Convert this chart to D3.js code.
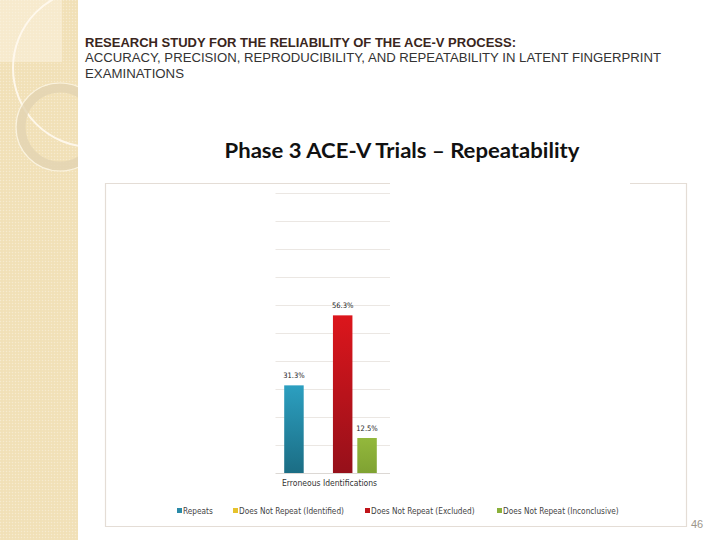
<!DOCTYPE html>
<html>
<head>
<meta charset="utf-8">
<script src="https://cdn.jsdelivr.net/npm/d3@7"></script>
<style>
  html, body { margin: 0; padding: 0; background: #fff; }
  svg { display: block; }
</style>
</head>
<body>
<svg id="chart" width="720" height="540"></svg>
<script>
// ---- data ----
const categories = ["Erroneous Identifications"];
const seriesNames = ["Repeats", "Does Not Repeat (Identified)", "Does Not Repeat (Excluded)", "Does Not Repeat (Inconclusive)"];
const seriesValues = [31.3, 0, 56.3, 12.5];
const valueLabels = ["31.3%", "", "56.3%", "12.5%"];
const yTicks = [0, 10, 20, 30, 40, 50, 60, 70, 80, 90, 100];

const headerLine1 = "RESEARCH STUDY FOR THE RELIABILITY OF THE ACE-V PROCESS:";
const headerLine2 = "ACCURACY, PRECISION, REPRODUCIBILITY, AND REPEATABILITY IN LATENT FINGERPRINT";
const headerLine3 = "EXAMINATIONS";
const chartTitle = "Phase 3 ACE-V Trials \u2013 Repeatability";
const pageNumber = "46";

// ---- styles ----
const colorsTop = ["#2c9fc0", "#f0cc3a", "#dc161c", "#93b83c"];
const colorsBottom = ["#1b6d84", "#d9ae1e", "#96101a", "#7fa232"];
const legendColors = ["#2a8aa8", "#e6c22c", "#c0141a", "#8ab03a"];

const svg = d3.select("#chart");
const defs = svg.append("defs");

// dotted beige pattern for side panel
const pat = defs.append("pattern").attr("id", "dots").attr("width", 3).attr("height", 3)
  .attr("patternUnits", "userSpaceOnUse");
pat.append("rect").attr("width", 3).attr("height", 3).attr("fill", "#f2e2ba");
pat.append("rect").attr("width", 1).attr("height", 1).attr("fill", "#f6ead0");
pat.append("rect").attr("x", 1.5).attr("y", 1.5).attr("width", 1).attr("height", 1).attr("fill", "#eedcae");

colorsTop.forEach((c, i) => {
  const g = defs.append("linearGradient").attr("id", "grad" + i)
    .attr("x1", 0).attr("y1", 0).attr("x2", 0).attr("y2", 1);
  g.append("stop").attr("offset", "0%").attr("stop-color", c);
  g.append("stop").attr("offset", "100%").attr("stop-color", colorsBottom[i]);
});
defs.append("clipPath").attr("id", "panelClip").append("rect")
  .attr("x", 0).attr("y", 0).attr("width", 78).attr("height", 540);

// ---- side panel ----
svg.append("rect").attr("x", 0).attr("y", 0).attr("width", 78).attr("height", 540).attr("fill", "url(#dots)");
const deco = svg.append("g").attr("clip-path", "url(#panelClip)");
deco.append("rect").attr("x", 0).attr("y", 0).attr("width", 62).attr("height", 62)
  .attr("fill", "#fbf3e0").attr("opacity", 0.55);
deco.append("circle").attr("cx", 92).attr("cy", 68).attr("r", 79)
  .attr("fill", "none").attr("stroke", "#fffaf0").attr("stroke-width", 2).attr("opacity", 0.9);
deco.append("circle").attr("cx", 60).attr("cy", 127).attr("r", 39)
  .attr("fill", "none").attr("stroke", "#e2d3b2").attr("stroke-width", 9).attr("opacity", 0.8);
deco.append("circle").attr("cx", 60).attr("cy", 127).attr("r", 44)
  .attr("fill", "none").attr("stroke", "#fbf4e2").attr("stroke-width", 1.2).attr("opacity", 0.9);

// ---- header ----
svg.append("text").attr("x", 85).attr("y", 47).text(headerLine1)
  .attr("font-family", "Liberation Sans, Arial, sans-serif").attr("font-weight", "bold")
  .attr("font-size", 12).attr("fill", "#3a2620").attr("textLength", 431).attr("lengthAdjust", "spacingAndGlyphs");
svg.append("text").attr("x", 85).attr("y", 62).text(headerLine2)
  .attr("font-family", "Liberation Sans, Arial, sans-serif")
  .attr("font-size", 12).attr("fill", "#333").attr("textLength", 576).attr("lengthAdjust", "spacingAndGlyphs");
svg.append("text").attr("x", 85).attr("y", 78).text(headerLine3)
  .attr("font-family", "Liberation Sans, Arial, sans-serif")
  .attr("font-size", 12).attr("fill", "#333").attr("textLength", 99).attr("lengthAdjust", "spacingAndGlyphs");

svg.append("text").attr("x", 402).attr("y", 158).attr("text-anchor", "middle").text(chartTitle)
  .attr("font-family", "Lato, 'Open Sans', sans-serif").attr("font-weight", "bold")
  .attr("font-size", 20).attr("fill", "#111").attr("textLength", 355).attr("lengthAdjust", "spacingAndGlyphs");

// ---- chart frame ----
const frame = svg.append("g");
frame.append("rect").attr("x", 105.5).attr("y", 183.5).attr("width", 581).attr("height", 343)
  .attr("fill", "#fff").attr("stroke", "none");
frame.append("path")
  .attr("d", "M390,183.5 H105.5 V526.5 H686.5 V183.5 H630")
  .attr("fill", "none").attr("stroke", "#e4ddd6").attr("stroke-width", 1.2);

// ---- scales ----
const x0 = d3.scaleBand().domain(categories).range([275.5, 385.5]).paddingInner(0).paddingOuter(0.094);
const x1 = d3.scaleBand().domain(seriesNames).range([0, x0.bandwidth()]).paddingInner(0.2).paddingOuter(0);
const y = d3.scaleLinear().domain([0, 100]).range([473, 193]);

// gridlines
const plot = svg.append("g");
plot.selectAll("line.grid").data(yTicks).join("line")
  .attr("class", "grid")
  .attr("x1", 275.5).attr("x2", 390)
  .attr("y1", d => Math.round(y(d)) + 0.5).attr("y2", d => Math.round(y(d)) + 0.5)
  .attr("stroke", d => d === 0 ? "#dcd8d4" : "#ebe7e3").attr("stroke-width", 1);

// bars
const groups = plot.selectAll("g.cat").data(categories).join("g")
  .attr("transform", d => `translate(${x0(d)},0)`);
const barData = seriesNames.map((s, i) => ({ s, v: seriesValues[i], label: valueLabels[i], i }));
groups.selectAll("rect").data(barData.filter(d => d.v > 0)).join("rect")
  .attr("x", d => x1(d.s)).attr("width", x1.bandwidth())
  .attr("y", d => y(d.v)).attr("height", d => y(0) - y(d.v))
  .attr("fill", d => `url(#grad${d.i})`);
groups.selectAll("text.val").data(barData.filter(d => d.label)).join("text")
  .attr("class", "val")
  .attr("x", d => x1(d.s) + x1.bandwidth() / 2).attr("y", d => y(d.v) - 7)
  .attr("text-anchor", "middle").text(d => d.label)
  .attr("font-family", "'DejaVu Sans Condensed', 'Liberation Sans Narrow', sans-serif")
  .attr("font-size", 7.5).attr("fill", "#222");

// category label
plot.selectAll("text.cat").data(categories).join("text")
  .attr("class", "cat")
  .attr("x", d => x0(d) + x0.bandwidth() / 2 - 1).attr("y", 486)
  .attr("text-anchor", "middle").text(d => d)
  .attr("font-family", "'Liberation Sans Narrow', 'DejaVu Sans Condensed', sans-serif")
  .attr("font-size", 8.5).attr("fill", "#333");

// legend
const legendX = [177, 233, 365, 497];
const legend = svg.append("g");
seriesNames.forEach((s, i) => {
  legend.append("rect").attr("x", legendX[i]).attr("y", 508).attr("width", 5).attr("height", 5)
    .attr("fill", legendColors[i]);
  legend.append("text").attr("x", legendX[i] + 6).attr("y", 514).text(s)
    .attr("font-family", "'Liberation Sans Narrow', 'DejaVu Sans Condensed', sans-serif")
    .attr("font-size", 8.2).attr("fill", "#444");
});

// page number
svg.append("text").attr("x", 691).attr("y", 528).text(pageNumber)
  .attr("font-family", "Liberation Sans, Arial, sans-serif").attr("font-size", 11).attr("fill", "#9c958a");
</script>
</body>
</html>
